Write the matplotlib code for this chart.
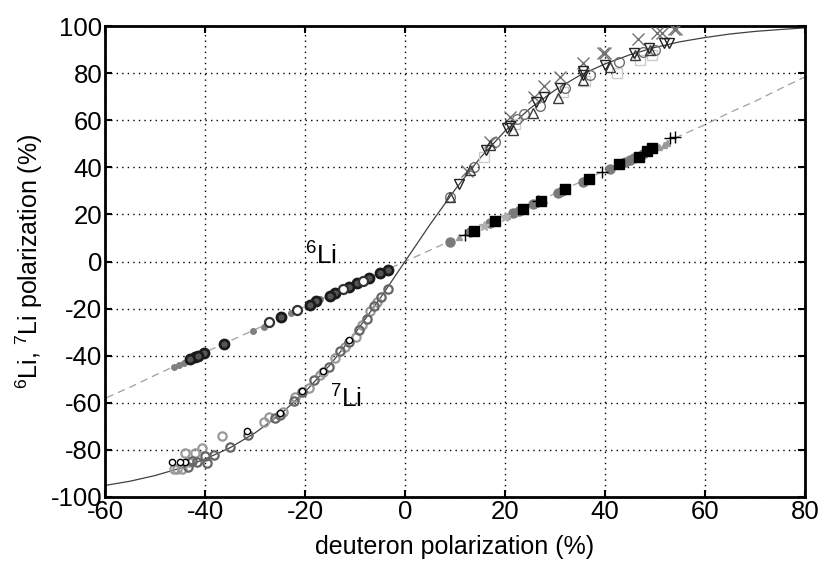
import matplotlib
matplotlib.use("Agg")
import matplotlib.pyplot as plt

plt.rcParams["font.family"] = ["Liberation Sans", "DejaVu Sans"]
plt.rcParams["mathtext.fontset"] = "custom"
plt.rcParams["mathtext.rm"] = "Liberation Sans"
plt.rcParams["mathtext.it"] = "Liberation Sans"
plt.rcParams["axes.unicode_minus"] = False

# Spin-temperature curves (deuteron polarization vs lithium polarization, %)
curve_x = [-80, -75, -70, -65, -60, -55, -50, -45, -40, -35, -30, -25, -20, -15, -10, -5,
           0, 5, 10, 15, 20, 25, 30, 35, 40, 45, 50, 55, 60, 65, 70, 75, 80]
curve_li7_pos = [0, 15.7, 30.5, 43.9, 55.4, 65.0, 72.8, 79.1, 83.9, 87.8, 90.9,
                 93.3, 95.1, 96.6, 97.7, 98.5, 99.2]
curve_li6_pos = [0, 4.8, 9.6, 14.4, 19.2, 24.0, 28.9, 33.7, 38.6, 43.4, 48.3,
                 53.4, 58.1, 63.3, 68.0, 73.3, 78.4]
curve_li7 = [-v for v in curve_li7_pos[:0:-1]] + curve_li7_pos
curve_li6 = [-v for v in curve_li6_pos[:0:-1]] + curve_li6_pos

# 7Li, negative polarization runs
li7n_dark_x = [-3.5, -4.9, -6.3, -7.7, -9.3, -11.3, -13.0, -15.3, -18.3, -20.7, -22.3, -25.1,
               -26.0, -31.5, -35.0, -38.3, -39.7, -42.7, -43.5, -40.0, -41.7]
li7n_dark_y = [-11.8, -14.9, -19.1, -24.6, -29.0, -34.0, -38.2, -44.7, -50.4, -55.3, -59.1, -65.2,
               -66.6, -73.7, -78.6, -82.2, -85.7, -84.8, -87.1, -82.6, -85.0]
li7n_light_x = [-5.7, -7.0, -8.7, -9.8, -12.0, -14.0, -16.5, -17.0, -19.3, -22.0, -24.5, -27.3,
                -28.3, -36.7, -40.7, -42.0, -44.0, -44.7, -45.7, -46.3, -43.3]
li7n_light_y = [-17.0, -21.2, -26.9, -31.9, -36.4, -41.1, -46.8, -48.3, -53.9, -57.4, -63.8, -65.9,
                -68.0, -74.1, -79.3, -81.5, -81.5, -88.2, -88.0, -88.0, -85.0]
li7n_black_x = [-11.3, -16.5, -20.7, -25.0, -31.7, -44.0, -45.0, -46.7]
li7n_black_y = [-33.5, -46.5, -55.0, -64.5, -71.8, -85.3, -85.0, -85.3]

# 6Li, negative polarization runs
li6n_dark_x = [-3.5, -5.1, -7.3, -9.7, -11.2, -14.0, -15.0, -17.9, -19.1, -24.8, -36.3,
               -40.3, -42.0, -43.1, -41.5]
li6n_dark_y = [-3.6, -5.0, -7.1, -9.0, -10.7, -13.2, -14.6, -16.8, -18.5, -23.7, -35.0,
               -39.0, -40.4, -41.5, -40.0]
li6n_open_x = [-21.7, -27.3, -8.5, -12.5]
li6n_open_y = [-20.6, -25.5, -8.2, -11.7]
li6n_gray_x = [-12.7, -17.1, -22.8, -28.3, -30.5, -44.3, -46.3, -45.3]
li6n_gray_y = [-12.1, -16.1, -22.0, -27.8, -29.4, -43.2, -44.7, -44.0]

# 7Li, positive polarization runs
li7p_cross_x = [12.3, 17.0, 21.0, 25.7, 27.8, 30.9, 35.5, 39.5, 40.0, 46.5, 50.3, 51.3, 53.7, 54.2]
li7p_cross_y = [38.5, 50.9, 61.3, 69.7, 74.5, 78.2, 84.2, 88.4, 88.6, 94.3, 97.0, 97.2, 98.7, 98.9]
li7p_tdown_x = [10.7, 16.2, 20.3, 21.0, 26.2, 27.7, 31.0, 35.5, 35.5, 40.0, 45.7, 48.7, 51.7, 52.7]
li7p_tdown_y = [32.9, 47.3, 56.5, 57.5, 67.8, 69.7, 73.5, 79.2, 81.0, 83.4, 88.4, 90.5, 92.6, 92.8]
li7p_tup_x = [8.9, 13.0, 17.0, 21.5, 25.5, 30.5, 35.5, 41.0, 46.0, 49.0]
li7p_tup_y = [27.3, 39.0, 49.5, 56.0, 63.0, 69.4, 77.0, 82.5, 87.5, 90.0]
li7p_circ_x = [8.9, 13.7, 18.0, 22.3, 23.7, 27.0, 32.0, 36.9, 42.7, 47.5, 50.0]
li7p_circ_y = [27.3, 40.0, 50.9, 60.3, 62.6, 66.0, 73.5, 79.2, 84.9, 88.8, 90.0]
li7p_sq_x = [15.7, 22.0, 31.5, 35.9, 42.3, 47.0, 49.3]
li7p_sq_y = [44.2, 58.5, 72.0, 76.5, 80.2, 85.6, 87.7]

# 6Li, positive polarization runs
li6p_sq_x = [13.7, 18.0, 23.5, 27.1, 31.9, 36.7, 42.7, 46.7, 48.3, 49.3]
li6p_sq_y = [13.0, 17.3, 22.3, 25.8, 30.7, 35.0, 41.3, 44.5, 47.1, 48.0]
li6p_dot_x = [8.9, 13.0, 16.9, 21.5, 22.7, 25.5, 30.5, 31.3, 35.5, 40.9, 44.0, 45.0, 45.7, 47.5]
li6p_dot_y = [8.4, 12.4, 16.5, 20.8, 21.5, 24.4, 29.0, 29.8, 33.9, 39.2, 42.3, 43.3, 44.0, 45.5]
li6p_plus_x = [12.0, 26.5, 39.3, 53.0, 54.0]
li6p_plus_y = [11.3, 25.5, 38.1, 52.3, 52.7]
li6p_tri_x = [10.7, 20.3, 27.7, 50.7, 51.7, 52.3]
li6p_tri_y = [10.3, 19.3, 26.2, 48.5, 49.6, 50.3]
li6p_star_x = [15.7, 20.0]
li6p_star_y = [15.1, 19.0]

x_ticks = [-60, -40, -20, 0, 20, 40, 60, 80]
y_ticks = [-100, -80, -60, -40, -20, 0, 20, 40, 60, 80, 100]

fig = plt.figure(figsize=(8.22, 5.61), dpi=100)
ax = fig.add_axes([105 / 822, 64 / 561, 700 / 822, 471 / 561])

ax.plot(curve_x, curve_li6, color="#a0a0a0", lw=0.9, ls=(0, (6, 4)), zorder=2)
ax.plot(curve_x, curve_li7, color="#404040", lw=0.9, zorder=2)

ms = 6
# 7Li negative
ax.plot(li7n_light_x, li7n_light_y, "o", ms=ms, mfc="none", mec="#9a9a9a", mew=1.6, zorder=3)
ax.plot(li7n_dark_x, li7n_dark_y, "o", ms=ms, mfc="none", mec="#666666", mew=1.6, zorder=3)
ax.plot(li7n_black_x, li7n_black_y, "o", ms=4.5, mfc="white", mec="black", mew=1.0, zorder=4)
# 6Li negative
ax.plot(li6n_gray_x, li6n_gray_y, "o", ms=4, mfc="#808080", mec="#808080", zorder=3)
ax.plot(li6n_dark_x, li6n_dark_y, "o", ms=6.5, mfc="#555555", mec="#1a1a1a", mew=2.0, zorder=4)
ax.plot(li6n_open_x, li6n_open_y, "o", ms=6.5, mfc="white", mec="#333333", mew=1.6, zorder=4)
# 7Li positive
ax.plot(li7p_sq_x, li7p_sq_y, "s", ms=7, mfc="none", mec="#cccccc", mew=1.0, zorder=3)
ax.plot(li7p_cross_x, li7p_cross_y, "x", ms=8, mec="#707070", mew=1.0, zorder=3)
ax.plot(li7p_circ_x, li7p_circ_y, "o", ms=7, mfc="none", mec="#707070", mew=1.0, zorder=3)
ax.plot(li7p_tup_x, li7p_tup_y, "^", ms=7, mfc="none", mec="#3a3a3a", mew=1.0, zorder=3)
ax.plot(li7p_tdown_x, li7p_tdown_y, "v", ms=7, mfc="none", mec="#222222", mew=1.0, zorder=3)
# 6Li positive
ax.plot(li6p_dot_x, li6p_dot_y, "o", ms=6.5, mfc="#7a7a7a", mec="#7a7a7a", zorder=3)
ax.plot(li6p_sq_x, li6p_sq_y, "s", ms=6.5, mfc="black", mec="black", zorder=4)
ax.plot(li6p_tri_x, li6p_tri_y, "^", ms=5, mfc="#9a9a9a", mec="#9a9a9a", zorder=3)
ax.plot(li6p_plus_x, li6p_plus_y, "+", ms=8, mec="black", mew=1.0, zorder=4)
ax.plot(li6p_star_x, li6p_star_y, "*", ms=7, mfc="#b0b0b0", mec="#b0b0b0", zorder=3)

ax.text(-20, -1.5, r"$^{6}$Li", fontsize=19, ha="left", va="baseline")
ax.text(-15, -62, r"$^{7}$Li", fontsize=19, ha="left", va="baseline")

ax.set_xlim(-60, 80)
ax.set_ylim(-100, 100)
ax.set_xticks(x_ticks)
ax.set_yticks(y_ticks)
ax.grid(True, color="black", ls=(0, (1, 3)), lw=1.0)
ax.tick_params(direction="in", length=5, width=1.5, top=True, right=True,
               labelsize=18.5, pad=2)
for s in ax.spines.values():
    s.set_linewidth(2.0)

ax.set_xlabel("deuteron polarization (%)", fontsize=18, labelpad=8)
ax.set_ylabel(r"$^{6}$Li, $^{7}$Li polarization (%)", fontsize=18, labelpad=4)

fig.savefig("out.png", dpi=100)
